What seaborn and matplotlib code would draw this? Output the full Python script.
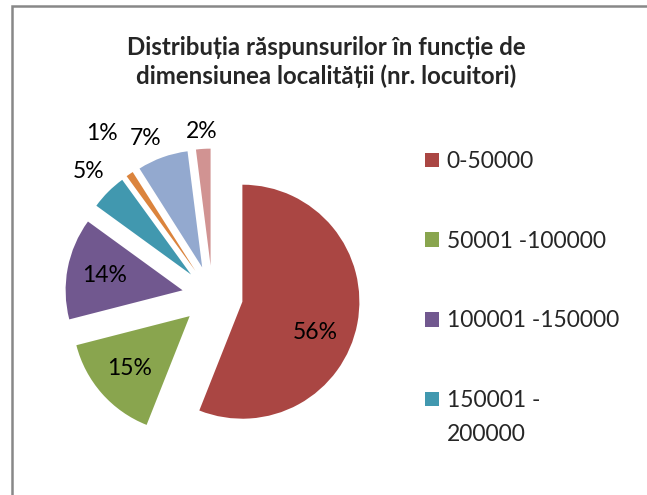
import matplotlib
matplotlib.use("Agg")
import matplotlib.pyplot as plt
import seaborn as sns
import numpy as np
from matplotlib.patches import Rectangle

# data
categories = ["0-50000", "50001 -100000", "100001 -150000", "150001 -\n200000",
              "200001 -250000", "250001 -300000", "peste 300000"]
values = [56, 15, 14, 5, 1, 7, 2]
colors = ["#AA4643", "#89A54E", "#71588F", "#4198AF", "#DB843D", "#93A9CF", "#D19392"]
title = "Distribuția răspunsurilor în funcție de\ndimensiunea localității (nr. locuitori)"

sns.set_theme(style="white")
plt.rcParams['font.family'] = ['Lato', 'DejaVu Sans']

W, H = 647, 495
fig = plt.figure(figsize=(W / 100, H / 100), dpi=100)

# pie centre ~ (212, 296) px, radius ~117 px
r_px = 117
lim = 1.5
cx, cy = 212.5, H - 296
ax = fig.add_axes([(cx - lim * r_px) / W, (cy - lim * r_px) / H,
                   2 * lim * r_px / W, 2 * lim * r_px / H])

pal = sns.color_palette(colors)
wedges, texts, autotexts = ax.pie(
    values, colors=pal, explode=[0.26] * len(values), startangle=90,
    counterclock=False, autopct=lambda p: f"{p:.0f}%", pctdistance=0.68,
    textprops=dict(fontsize=16.5, color="black"), wedgeprops=dict(linewidth=0))
ax.set_xlim(-lim, lim)
ax.set_ylim(-lim, lim)
ax.axis("off")

# label placement: (distance from slice centre, angle shift in degrees)
label_pos = {0: (0.68, -12), 3: (1.24, 0), 4: (1.42, 0), 5: (1.2, 4), 6: (1.15, 0)}
for i, (d, shift) in label_pos.items():
    w = wedges[i]
    ang = np.deg2rad((w.theta1 + w.theta2) / 2 + shift)
    x0, y0 = w.center
    autotexts[i].set_position((x0 + d * np.cos(ang), y0 + d * np.sin(ang)))

leg_labels = [c.split("\n")[0] for c in categories[:4]]
leg = fig.legend(wedges[:4], leg_labels, loc="upper left",
                 bbox_to_anchor=(425 / W, 1 - 151 / H), frameon=False,
                 fontsize=16.5, labelspacing=2.56, handlelength=0.62, handleheight=0.62,
                 handletextpad=0.32, borderpad=0, borderaxespad=0)

# wrapped second line of the last legend entry
fig.canvas.draw()
bb = leg.get_texts()[3].get_window_extent()
fig.text(bb.x0 / W, (bb.y0 - 34 + bb.height / 2) / H, categories[3].split("\n")[1],
         ha="left", va="center", fontsize=16.5)

fig.text(326 / W, 1 - 62 / H, title, ha="center", va="center",
         fontsize=17.3, fontweight="bold", linespacing=1.3)

# chart border
fig.add_artist(Rectangle((12 / W, -0.1), 1.2, 1 - 6 / H + 0.1, transform=fig.transFigure,
                         fill=False, edgecolor="#888888", linewidth=1.8, clip_on=False))

fig.savefig("out.png", dpi=100, facecolor="white")
